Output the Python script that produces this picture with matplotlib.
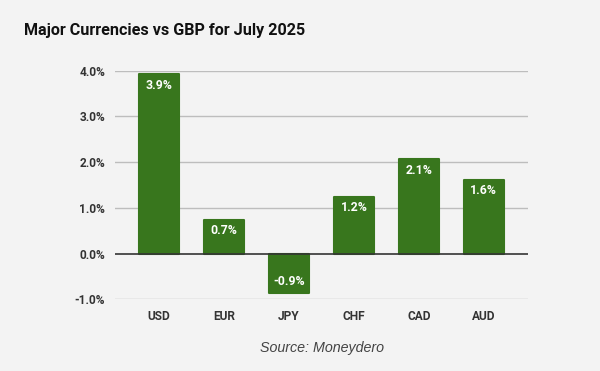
import matplotlib
matplotlib.use("Agg")
import matplotlib.pyplot as plt
from matplotlib.ticker import FuncFormatter

currencies = ["USD", "EUR", "JPY", "CHF", "CAD", "AUD"]
changes = [3.92, 0.74, -0.86, 1.24, 2.06, 1.61]
yticks = [-1.0, 0.0, 1.0, 2.0, 3.0, 4.0]

bg = "#f3f3f3"
green = "#38761d"

fig = plt.figure(figsize=(6.0, 3.71), dpi=100, facecolor=bg)
W, H = 600, 371
ax = fig.add_axes([115 / W, 1 - 299.3 / H, (528 - 115) / W, (299.3 - 70.7) / H])
ax.set_facecolor(bg)

x = list(range(len(currencies)))
bars = ax.bar(x, changes, width=0.62, color=green, edgecolor=green,
              linewidth=1.5, joinstyle="round", zorder=3)

ax.set_xlim(-0.68, len(currencies) - 1 + 0.68)
ax.set_ylim(-1.0, 4.0)
ax.set_yticks(yticks)
ax.yaxis.set_major_formatter(FuncFormatter(lambda v, p: f"{v:.1f}%"))
ax.set_xticks(x)
ax.set_xticklabels(currencies)

for v in yticks:
    if v == 0:
        ax.axhline(v, color="#333333", linewidth=1.2, zorder=4)
    else:
        ax.axhline(v, color="#bdbdbd", linewidth=1.0, zorder=1)

for s in ax.spines.values():
    s.set_visible(False)
ax.tick_params(axis="both", length=0)
ax.tick_params(axis="y", pad=7)
ax.tick_params(axis="x", pad=8)
for lab in ax.get_yticklabels() + ax.get_xticklabels():
    lab.set_fontfamily("Roboto")
    lab.set_fontweight("bold")
    lab.set_fontsize(8.6)
    lab.set_color("#333333")

for xi, v in zip(x, changes):
    off = -11 if v >= 0 else 11
    ax.annotate(f"{v:.1f}%", (xi, v), xytext=(0, off), textcoords="offset pixels",
                ha="center", va="center", color="white", fontsize=8.8,
                fontweight="bold", family="Roboto", zorder=5)

fig.text(24 / W, 1 - 35 / H, "Major Currencies vs GBP for July 2025",
         fontsize=11.6, fontweight="bold", family="Roboto", color="#111111",
         ha="left", va="baseline")
fig.text(322 / W, 1 - 352.3 / H, "Source: Moneydero", fontsize=10.3,
         style="italic", family="Liberation Sans", color="#444444",
         ha="center", va="baseline")

fig.savefig("out.png", dpi=100, facecolor=bg)
